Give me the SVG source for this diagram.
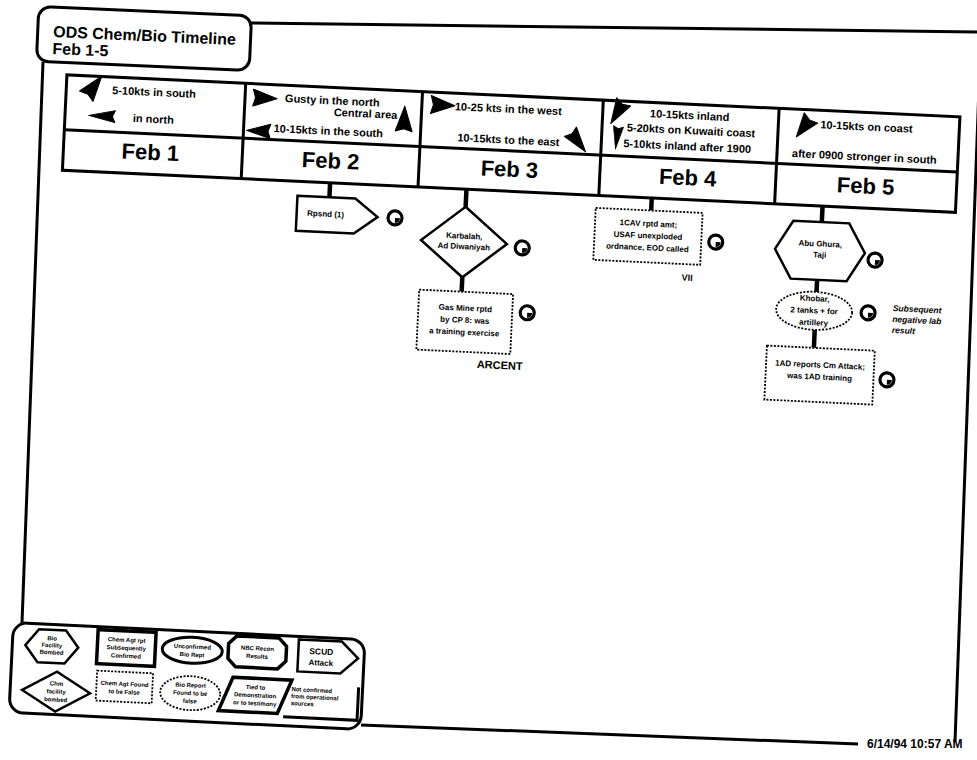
<svg xmlns="http://www.w3.org/2000/svg" width="977" height="760" viewBox="0 0 977 760">
<style>
.ln{stroke:#000;stroke-width:3;fill:none}
.box{fill:#fff;stroke:#000;stroke-width:2.5}
.thk{fill:#fff;stroke:#000;stroke-width:3.5}
.dot{fill:#fff;stroke:#000;stroke-width:1.8;stroke-dasharray:2 1.5}
.stem{stroke:#000;stroke-width:4.5}
.t{font-family:"Liberation Sans",Arial,Helvetica,sans-serif;font-weight:bold;fill:#000}
.w{font-size:11px}
.wm{font-size:11px;text-anchor:middle}
.we{font-size:11px;text-anchor:end}
.d{font-size:22px;text-anchor:middle}
.n{font-size:8px;text-anchor:middle}
.lg{font-size:6px;text-anchor:middle}
.ls{font-size:6px}
.it{font-size:8.5px;font-style:italic}
</style>
<defs>
<path id="wa" d="M13,0 L-11,-8.5 L-8.5,0 L-11,8.5 Z" fill="#000" stroke="#000" stroke-width="1" stroke-linejoin="round"/>
<g id="clock"><circle r="7" fill="#fff" stroke="#000" stroke-width="3.2"/><path d="M0,0 L5,0 A5,5 0 0 1 0,5 Z" fill="#000"/></g>
</defs>
<rect width="977" height="760" fill="#fff"/>

<g id="frame" class="ln">
<line x1="248" y1="23" x2="985" y2="32"/>
<line x1="43" y1="62" x2="22" y2="623"/>
<line x1="361" y1="725" x2="858" y2="744"/>
<line x1="981" y1="32" x2="955" y2="742"/>
</g>

<g id="title" transform="rotate(2.5 144 38.5)">
<rect x="37.5" y="11" width="213" height="55" rx="12" fill="#fff" stroke="#000" stroke-width="3"/>
<text x="53" y="41" class="t" font-size="16">ODS Chem/Bio Timeline</text>
<text x="53" y="58" class="t" font-size="16">Feb 1-5</text>
</g>

<g transform="rotate(2.7 488 380)">
<g id="table">
<rect x="53" y="95" width="894" height="95.5" fill="#fff" class="ln"/>
<g class="ln">
<line x1="53" y1="150" x2="947" y2="150"/>
<line x1="232" y1="95" x2="232" y2="190.5"/>
<line x1="409" y1="95" x2="409" y2="190.5"/>
<line x1="590" y1="95" x2="590" y2="190.5"/>
<line x1="766" y1="95" x2="766" y2="190.5"/>
</g>
</g>

<g id="feb1">
<use href="#wa" transform="translate(80 106) rotate(-55) scale(1.05 1)"/>
<text x="99" y="112" class="t w">5-10kts in south</text>
<use href="#wa" transform="translate(91 134.5) rotate(180) scale(1.1 0.7)"/>
<text x="121" y="139" class="t w">in north</text>
<text x="140" y="176" class="t d">Feb 1</text>
</g>

<g id="feb2">
<use href="#wa" transform="translate(251 109)"/>
<text x="272" y="112" class="t w">Gusty in the north</text>
<text x="385" y="123.5" class="t we">Central area</text>
<use href="#wa" transform="translate(392 124) rotate(-90) scale(1.05 1)"/>
<use href="#wa" transform="translate(248 142) rotate(180) scale(1 0.85)"/>
<text x="262" y="142.5" class="t w">10-15kts in the south</text>
<text x="320.5" y="176" class="t d">Feb 2</text>
</g>

<g id="feb3">
<use href="#wa" transform="translate(429 107.5) scale(1 1.05)"/>
<text x="442" y="112" class="t w">10-25 kts in the west</text>
<text x="446" y="143" class="t w">10-15kts to the east</text>
<use href="#wa" transform="translate(566 137) rotate(50) scale(1.05 0.9)"/>
<text x="499.5" y="176" class="t d">Feb 3</text>
</g>

<g id="feb4">
<use href="#wa" transform="translate(605 106) rotate(118) scale(1.05 0.95)"/>
<use href="#wa" transform="translate(605.5 131) rotate(95) scale(0.95 0.6)"/>
<text x="677" y="110" class="t wm">10-15kts inland</text>
<text x="679" y="125" class="t wm">5-20kts on Kuwaiti coast</text>
<text x="676" y="141" class="t wm">5-10kts inland after 1900</text>
<text x="678" y="176" class="t d">Feb 4</text>
</g>

<g id="feb5">
<use href="#wa" transform="translate(792 112) rotate(125)"/>
<text x="808" y="113" class="t w">10-15kts on coast</text>
<text x="781" y="143" class="t w">after 0900 stronger in south</text>
<text x="856" y="176" class="t d">Feb 5</text>
</g>

<g id="connectors">
<line class="stem" x1="321" y1="190.5" x2="321" y2="205"/>
<line class="stem" x1="457.5" y1="190.5" x2="457.5" y2="208"/>
<line class="stem" x1="457.5" y1="278.5" x2="457.5" y2="293"/>
<line class="stem" x1="643" y1="190.5" x2="643" y2="203"/>
<line class="stem" x1="814" y1="190.5" x2="814" y2="206.5"/>
<line class="stem" x1="812" y1="264.5" x2="812" y2="276.5"/>
<line class="stem" x1="812" y1="314.5" x2="812" y2="332.5"/>
</g>

<g id="n-rpsnd">
<polygon class="box" points="289,205 347,205 370,222.5 347,240 289,240"/>
<text x="318" y="224.5" class="t n">Rpsnd (1)</text>
<use href="#clock" transform="translate(387.5 222.5)"/>
</g>

<g id="n-karbalah">
<polygon class="box" points="457.5,208 500.5,243.3 457.5,278.6 414.5,243.3"/>
<text x="457.5" y="240" class="t n">Karbalah,</text>
<text x="457.5" y="250.5" class="t n">Ad Diwaniyah</text>
<use href="#clock" transform="translate(516 246.5)"/>
</g>

<g id="n-gasmine">
<rect class="dot" x="415" y="293" width="94" height="60"/>
<text x="462" y="312" class="t n">Gas Mine rptd</text>
<text x="462" y="324" class="t n">by CP 8: was</text>
<text x="462" y="336" class="t n">a training exercise</text>
<use href="#clock" transform="translate(524 311)"/>
<text x="499" y="368.5" class="t" font-size="11" text-anchor="middle">ARCENT</text>
</g>

<g id="n-1cav">
<rect class="dot" x="587.5" y="203" width="107" height="52"/>
<text x="641" y="219" class="t n">1CAV rptd amt;</text>
<text x="641" y="231" class="t n">USAF unexploded</text>
<text x="641" y="243" class="t n">ordnance, EOD called</text>
<use href="#clock" transform="translate(709 231.5)"/>
<text x="682" y="271.5" class="t" font-size="9" text-anchor="middle">VII</text>
</g>

<g id="n-abughura">
<polygon class="box" points="768.5,235.5 785.5,206.5 841.5,206.5 858.5,235.5 841.5,264.5 785.5,264.5"/>
<text x="813.5" y="231" class="t n">Abu Ghura,</text>
<text x="813.5" y="242" class="t n">Taji</text>
<use href="#clock" transform="translate(869 242)"/>
</g>

<g id="n-khobar">
<ellipse class="dot" cx="810.5" cy="295.5" rx="38" ry="19"/>
<text x="810.5" y="286" class="t n">Khobar,</text>
<text x="810.5" y="298" class="t n">2 tanks + for</text>
<text x="810.5" y="310" class="t n">artillery</text>
<use href="#clock" transform="translate(864.5 295)"/>
<text x="889" y="292" class="t it">Subsequent</text>
<text x="889" y="303" class="t it">negative lab</text>
<text x="889" y="314" class="t it">result</text>
</g>

<g id="n-1ad">
<rect class="dot" x="765" y="332.5" width="108" height="54"/>
<text x="819" y="352" class="t n">1AD reports Cm Attack;</text>
<text x="819" y="364" class="t n">was 1AD training</text>
<use href="#clock" transform="translate(886.5 361)"/>
</g>
</g>

<g id="legend" transform="rotate(2.8 187 676)">
<rect x="11" y="631" width="352" height="90" rx="14" fill="#fff" stroke="#000" stroke-width="3"/>
<g id="lg-bio-bombed">
<polygon class="box" points="24,653 37,636.5 64,636.5 77,653 64,669.5 37,669.5"/>
<text x="50.5" y="647" class="t lg">Bio</text>
<text x="50.5" y="654" class="t lg">Facility</text>
<text x="50.5" y="661" class="t lg">Bombed</text>
</g>
<g id="lg-chem-confirmed">
<rect class="thk" x="96" y="634" width="58" height="34"/>
<text x="125" y="645" class="t lg">Chem Agt rpt</text>
<text x="125" y="653" class="t lg">Subsequently</text>
<text x="125" y="661" class="t lg">Confirmed</text>
</g>
<g id="lg-bio-unconfirmed">
<ellipse cx="191" cy="650" rx="30" ry="13" fill="#fff" stroke="#000" stroke-width="3"/>
<text x="191" y="648.5" class="t lg">Unconfirmed</text>
<text x="191" y="656.5" class="t lg">Bio Rept</text>
</g>
<g id="lg-nbc">
<polygon class="thk" points="235,633.5 277,633.5 285,641.5 285,656.5 277,664.5 235,664.5 227,656.5 227,641.5"/>
<text x="256" y="647" class="t lg">NBC Recon</text>
<text x="256" y="655" class="t lg">Results</text>
</g>
<g id="lg-scud">
<polygon class="box" points="297,634 340,634 357,650 340,666 297,666"/>
<text x="320" y="648" class="t" font-size="8.5" text-anchor="middle">SCUD</text>
<text x="320" y="659" class="t" font-size="8" text-anchor="middle">Attack</text>
</g>
<g id="lg-chem-bombed">
<polygon class="box" points="23,698 57,678 91,698 57,718"/>
<text x="57" y="692" class="t lg">Chm</text>
<text x="57" y="700" class="t lg">facility</text>
<text x="57" y="708" class="t lg">bombed</text>
</g>
<g id="lg-chem-false">
<rect class="dot" x="97" y="675" width="56" height="30"/>
<text x="125" y="689" class="t lg">Chem Agt Found</text>
<text x="125" y="697" class="t lg">to be False</text>
</g>
<g id="lg-bio-false">
<ellipse class="dot" cx="191" cy="693" rx="30" ry="17" stroke-width="2.2"/>
<text x="191" y="687" class="t lg">Bio Report</text>
<text x="191" y="695" class="t lg">Found to be</text>
<text x="191" y="703" class="t lg">false</text>
</g>
<g id="lg-tied">
<polygon class="thk" points="233,675 292,675 279,709 220,709"/>
<text x="256" y="686" class="t lg">Tied to</text>
<text x="256" y="694" class="t lg">Demonstration</text>
<text x="256" y="702" class="t lg">or to testimony</text>
</g>
<g id="lg-notconfirmed">
<text x="292" y="686" class="t ls">Not confirmed</text>
<text x="292" y="693" class="t ls">from operational</text>
<text x="292" y="700" class="t ls">sources</text>
<polyline class="ln" points="285,712 359,712 359,679"/>
</g>
</g>

<text x="867" y="748" class="t" font-size="12">6/14/94 10:57 AM</text>
</svg>
